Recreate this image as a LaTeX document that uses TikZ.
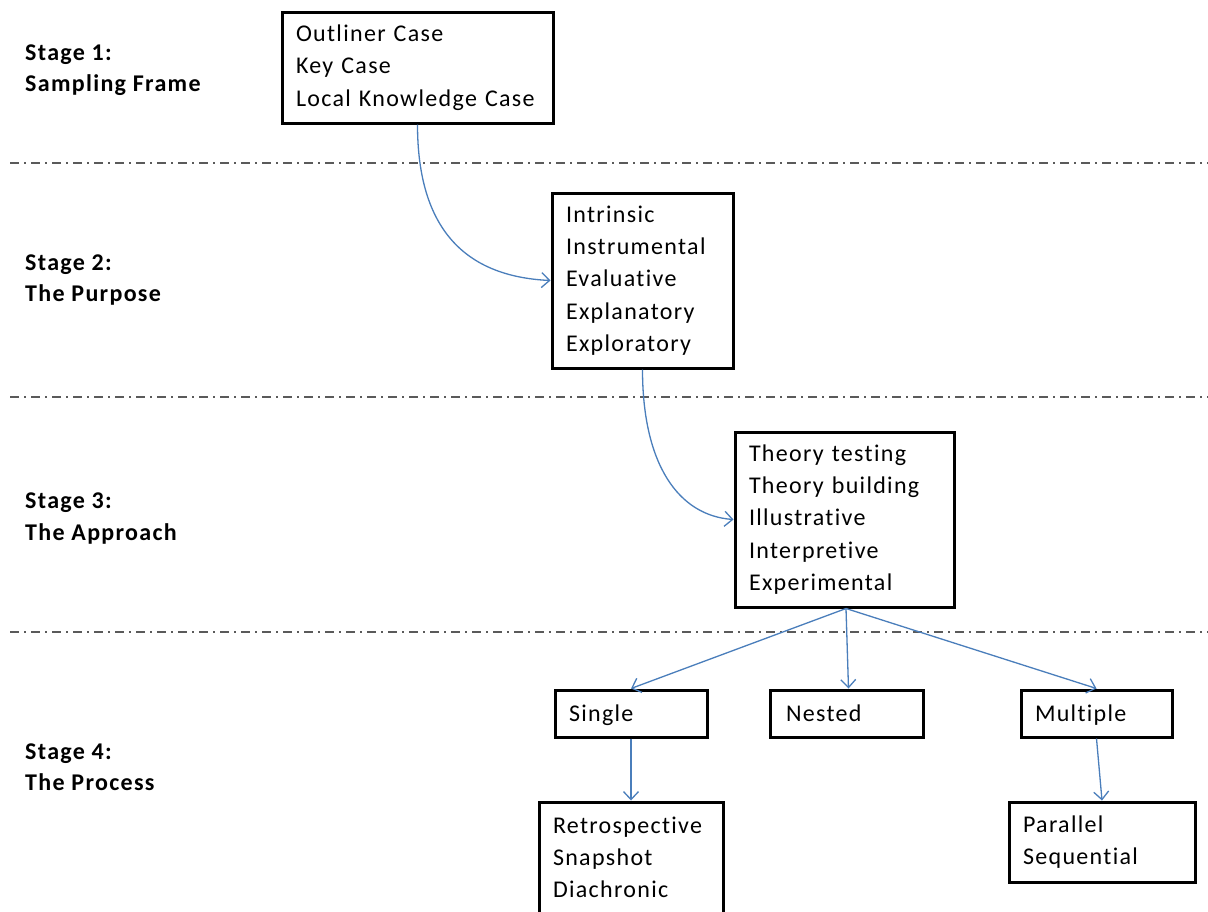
\documentclass[tikz,border=0pt]{standalone}
\usepackage{fontspec}
\setmainfont{Carlito}[LetterSpace=5.5, Ligatures=NoCommon]
\usetikzlibrary{arrows.meta}

\begin{document}
\begin{tikzpicture}[x=1pt,y=-1pt,
  every node/.style={font=\fontsize{24}{32.3}\selectfont},
  box/.style={draw=black, line width=3pt, rectangle, align=left,
    inner xsep=14pt, inner ysep=0pt},
  onebox/.style={box, minimum height=47pt, text height=20pt, text depth=5pt},
  stagelbl/.style={anchor=west, align=left, inner sep=0pt,
    font=\fontsize{24}{31.5}\selectfont\bfseries},
  divider/.style={draw={rgb,255:red,90;green,90;blue,90}, line width=2pt,
    dash pattern=on 9pt off 5pt on 2pt off 5pt},
  link/.style={draw={rgb,255:red,74;green,126;blue,187}, line width=1.3pt,
    -{Straight Barb[length=8pt,width=15pt,line width=1.3pt]}}
]
\fill[white] (0,0) rectangle (1208,911);
\useasboundingbox (0,0) rectangle (1208,911);

% stage dividers
\draw[divider] (10,163) -- (1208,163);
\draw[divider] (10,397) -- (1208,397);
\draw[divider] (10,632) -- (1208,632);

% stage headings
\node[stagelbl] (s1) at (25,70) {Stage 1:\\Sampling Frame};
\node[stagelbl] (s2) at (25,280) {Stage 2:\\The Purpose};
\node[stagelbl] (s3) at (25,518.5) {Stage 3:\\The Approach};
\node[stagelbl] (s4) at (25,767) {Stage 4:\\The Process};

% stage boxes
\node[box, text width=243pt, minimum height=111pt] (b1) at (417.5,67.5)
  {Outliner Case\\Key Case\\Local Knowledge Case};
\node[box, text width=153pt, minimum height=175pt] (b2) at (642.5,280.5)
  {Intrinsic\\Instrumental\\Evaluative\\Explanatory\\Exploratory};
\node[box, text width=191pt, minimum height=175pt] (b3) at (844.5,519.5)
  {Theory testing\\Theory building\\Illustrative\\Interpretive\\Experimental};

\node[onebox, text width=124pt] (single) at (631,713.5) {Single};
\node[onebox, inner xsep=16pt, text width=121pt] (nested) at (846.5,713.5) {Nested};
\node[onebox, text width=123pt] (multiple) at (1096.5,713.5) {Multiple};

\node[box, text width=156pt, minimum height=111pt] (retro) at (631,857.5)
  {Retrospective\\Snapshot\\Diachronic};
\node[box, text width=158pt, minimum height=80pt] (para) at (1102,842)
  {Parallel\\Sequential};

% connectors
\draw[link] (b1.south) .. controls +(0,105) and +(-85,-4) .. (b2.west);
\draw[link] (b2.south) .. controls +(0,95) and +(-55,-4) .. (b3.west);
\draw[link] ([xshift=1.5pt]b3.south) -- (single.north);
\draw[link] ([xshift=1.5pt]b3.south) -- ([xshift=2pt]nested.north);
\draw[link] ([xshift=1.5pt]b3.south) -- (multiple.north);
\draw[link] (single.south) -- (retro.north);
\draw[link] (multiple.south) -- (para.north);
\end{tikzpicture}
\end{document}
